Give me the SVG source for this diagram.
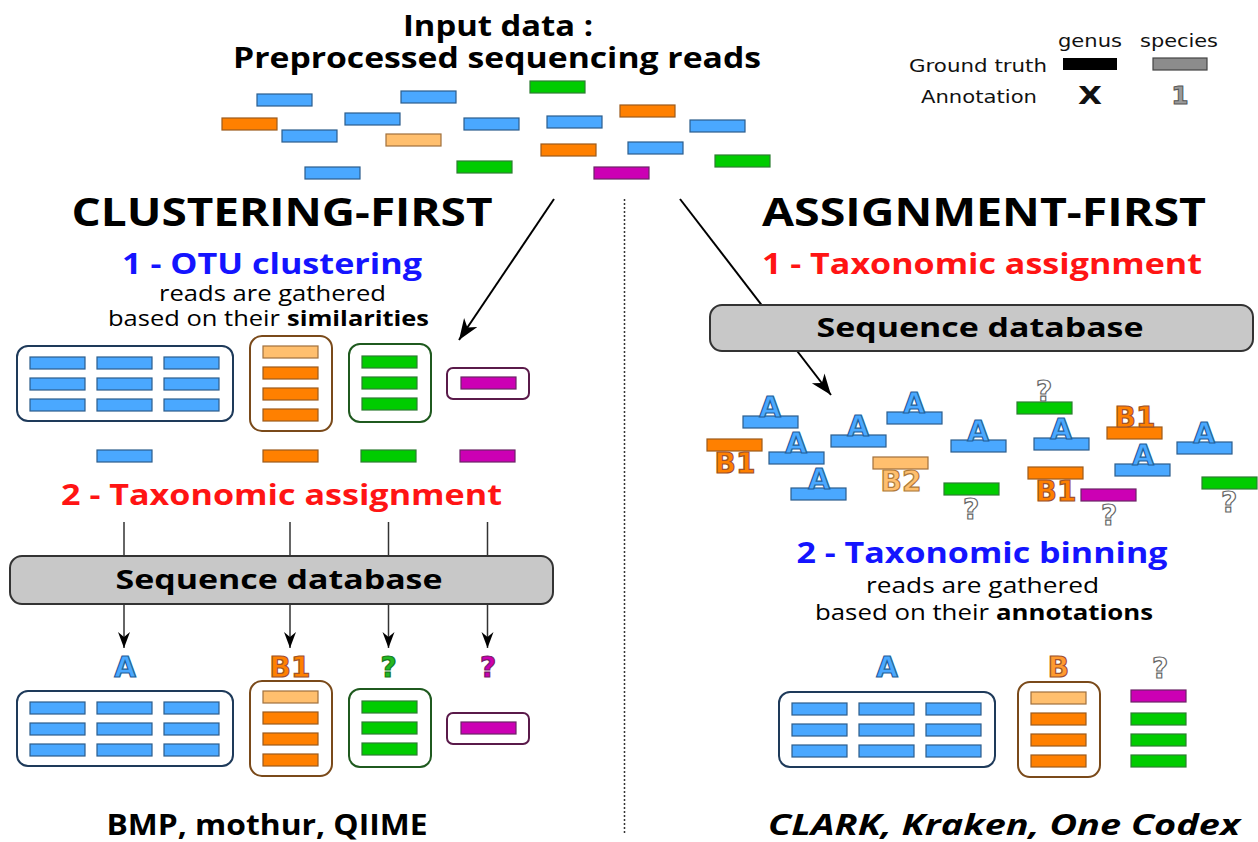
<svg xmlns="http://www.w3.org/2000/svg" xmlns:xlink="http://www.w3.org/1999/xlink" width="1258" height="842" viewBox="0 0 1258 842">
<defs>
<style>
.t{font-family:'Open Sans','Liberation Sans',sans-serif;fill:#000}
.b{font-weight:700}
.lg{font-family:'DejaVu Sans','Liberation Sans',sans-serif;fill:#111}
.lb{font-family:'DejaVu Sans','Liberation Sans',sans-serif;font-weight:700;font-size:28px;text-anchor:middle;stroke-width:1.2}
.la{fill:#4aa8ff;stroke:#1f5f99}
.lo{fill:#ff8000;stroke:#a0522d}
.ll{fill:#ffbf6e;stroke:#b07a3a}
.lq{fill:#fff;stroke:#666}
.lgq{fill:#22b822;stroke:#1a7a1a}
.lmq{fill:#cc00b0;stroke:#7a1a6a}
.r{stroke-width:1.2}
.rb{fill:#4aa8ff;stroke:#2c5d8c}
.ro{fill:#ff8000;stroke:#9c5a1c}
.rl{fill:#ffbf6e;stroke:#a0703c}
.rg{fill:#00cc00;stroke:#2e7d32}
.rm{fill:#cc00b4;stroke:#6b2466}
.box{fill:#fff;stroke-width:2}
.db{fill:#c8c8c8;stroke:#333;stroke-width:2}
.ln{stroke:#333;stroke-width:1.5;fill:none}
</style>
<marker id="ah" markerUnits="userSpaceOnUse" markerWidth="18" markerHeight="14" refX="16" refY="6" orient="auto">
<path d="M0,0 L16,6 L0,12 L5,6 z" fill="#000"/>
</marker>
<marker id="ahL" markerUnits="userSpaceOnUse" markerWidth="24" markerHeight="18" refX="21" refY="8" orient="auto">
<path d="M0,0 L21,8 L0,16 L6,8 z" fill="#000"/>
</marker>
<g id="clusterL">
<rect class="box" x="17" y="346" width="216" height="75" rx="11" stroke="#1e3a5a"/>
<rect class="r rb" x="30" y="357" width="55" height="12"/><rect class="r rb" x="97" y="357" width="55" height="12"/><rect class="r rb" x="164" y="357" width="55" height="12"/>
<rect class="r rb" x="30" y="378" width="55" height="12"/><rect class="r rb" x="97" y="378" width="55" height="12"/><rect class="r rb" x="164" y="378" width="55" height="12"/>
<rect class="r rb" x="30" y="399" width="55" height="12"/><rect class="r rb" x="97" y="399" width="55" height="12"/><rect class="r rb" x="164" y="399" width="55" height="12"/>
<rect class="box" x="250" y="336" width="82" height="95" rx="12" stroke="#7a4a1a"/>
<rect class="r rl" x="263" y="346" width="55" height="12"/><rect class="r ro" x="263" y="367" width="55" height="12"/><rect class="r ro" x="263" y="388" width="55" height="12"/><rect class="r ro" x="263" y="409" width="55" height="12"/>
<rect class="box" x="349" y="344" width="82" height="78" rx="11" stroke="#1f5a1f"/>
<rect class="r rg" x="362" y="356" width="55" height="12"/><rect class="r rg" x="362" y="377" width="55" height="12"/><rect class="r rg" x="362" y="398" width="55" height="12"/>
<rect class="box" x="447" y="368" width="82" height="31" rx="6" stroke="#5a1a4a"/>
<rect class="r rm" x="461" y="377" width="55" height="12"/>
</g>
</defs>

<g id="connectors">
<line class="ln" x1="624.5" y1="199" x2="624.5" y2="835" stroke-dasharray="2,2"/>
<line x1="554" y1="199" x2="459" y2="340" stroke="#000" stroke-width="2" marker-end="url(#ahL)"/>
<line x1="680" y1="199" x2="831" y2="395" stroke="#000" stroke-width="2" marker-end="url(#ahL)"/>
<line class="ln" x1="124" y1="522" x2="124" y2="556"/>
<line class="ln" x1="290" y1="522" x2="290" y2="556"/>
<line class="ln" x1="388.5" y1="522" x2="388.5" y2="556"/>
<line class="ln" x1="487.5" y1="522" x2="487.5" y2="556"/>
<line class="ln" x1="124" y1="604" x2="124" y2="648" marker-end="url(#ah)"/>
<line class="ln" x1="290" y1="604" x2="290" y2="648" marker-end="url(#ah)"/>
<line class="ln" x1="388.5" y1="604" x2="388.5" y2="648" marker-end="url(#ah)"/>
<line class="ln" x1="487.5" y1="604" x2="487.5" y2="648" marker-end="url(#ah)"/>
</g>

<g id="title">
<text class="t b" x="498" y="36" font-size="29" text-anchor="middle" textLength="190" lengthAdjust="spacingAndGlyphs">Input data :</text>
<text class="t b" x="497" y="68" font-size="29" text-anchor="middle" textLength="528" lengthAdjust="spacingAndGlyphs">Preprocessed sequencing reads</text>
</g>

<g id="legend">
<text class="lg" x="1090" y="47" font-size="18" text-anchor="middle" textLength="64" lengthAdjust="spacingAndGlyphs">genus</text>
<text class="lg" x="1179" y="47" font-size="18" text-anchor="middle" textLength="78" lengthAdjust="spacingAndGlyphs">species</text>
<text class="lg" x="1047" y="72" font-size="18" text-anchor="end" textLength="138" lengthAdjust="spacingAndGlyphs">Ground truth</text>
<text class="lg" x="1037" y="103" font-size="18" text-anchor="end" textLength="116" lengthAdjust="spacingAndGlyphs">Annotation</text>
<rect x="1063" y="58" width="54" height="12" fill="#000"/>
<rect x="1153" y="58" width="54" height="12" fill="#8c8c8c" stroke="#444" stroke-width="1.2"/>
<text class="lg" x="1090" y="104" font-size="25" font-weight="700" text-anchor="middle" fill="#000" textLength="24" lengthAdjust="spacingAndGlyphs">X</text>
<text class="lg" x="1180" y="104" font-size="25" font-weight="700" text-anchor="middle" style="fill:#9a9a9a;stroke:#555;stroke-width:1">1</text>
</g>

<g id="input-reads">
<rect class="r rb" x="257" y="94" width="55" height="12"/>
<rect class="r rb" x="401" y="91" width="55" height="12"/>
<rect class="r rg" x="530" y="81" width="55" height="12"/>
<rect class="r ro" x="222" y="118" width="55" height="12"/>
<rect class="r rb" x="345" y="113" width="55" height="12"/>
<rect class="r rb" x="282" y="130" width="55" height="12"/>
<rect class="r rl" x="386" y="134" width="55" height="12"/>
<rect class="r rb" x="464" y="118" width="55" height="12"/>
<rect class="r rb" x="547" y="116" width="55" height="12"/>
<rect class="r ro" x="620" y="105" width="55" height="12"/>
<rect class="r rb" x="690" y="120" width="55" height="12"/>
<rect class="r ro" x="541" y="144" width="55" height="12"/>
<rect class="r rb" x="628" y="142" width="55" height="12"/>
<rect class="r rg" x="715" y="155" width="55" height="12"/>
<rect class="r rb" x="305" y="167" width="55" height="12"/>
<rect class="r rg" x="457" y="161" width="55" height="12"/>
<rect class="r rm" x="594" y="167" width="55" height="12"/>
</g>

<g id="clustering-first">
<text class="t b" x="282" y="226" font-size="40" text-anchor="middle" textLength="421" lengthAdjust="spacingAndGlyphs">CLUSTERING-FIRST</text>
<text class="t b" x="272" y="274" font-size="28" text-anchor="middle" textLength="300" lengthAdjust="spacingAndGlyphs" style="fill:#1414ff">1 - OTU clustering</text>
<text class="t" x="272.5" y="301" font-size="21" text-anchor="middle" textLength="227" lengthAdjust="spacingAndGlyphs">reads are gathered</text>
<text class="t" x="108" y="326" font-size="21" textLength="172" lengthAdjust="spacingAndGlyphs">based on their</text>
<text class="t b" x="287" y="326" font-size="21" textLength="142" lengthAdjust="spacingAndGlyphs">similarities</text>
</g>

<g id="otu-clusters"><use xlink:href="#clusterL"/></g>

<g id="representatives">
<rect class="r rb" x="97" y="450" width="55" height="12"/>
<rect class="r ro" x="263" y="450" width="55" height="12"/>
<rect class="r rg" x="361" y="450" width="55" height="12"/>
<rect class="r rm" x="460" y="450" width="55" height="12"/>
</g>

<g id="step2-left">
<text class="t b" x="281.5" y="505" font-size="29" text-anchor="middle" textLength="441" lengthAdjust="spacingAndGlyphs" style="fill:#ff1414">2 - Taxonomic assignment</text>
</g>

<g id="db-left">
<rect class="db" x="10" y="556" width="543" height="48" rx="12"/>
<text class="t b" x="279" y="589" font-size="27" text-anchor="middle" textLength="327" lengthAdjust="spacingAndGlyphs">Sequence database</text>
</g>

<g id="labels-left">
<text class="lb la" x="125" y="677">A</text>
<text class="lb lo" x="290" y="677">B1</text>
<text class="lb lgq" x="388.5" y="677">?</text>
<text class="lb lmq" x="488" y="677">?</text>
</g>

<g id="annotated-clusters"><use xlink:href="#clusterL" transform="translate(0,345)"/></g>

<g id="tools-left">
<text class="t b" x="267" y="835" font-size="29" text-anchor="middle" textLength="321" lengthAdjust="spacingAndGlyphs">BMP, mothur, QIIME</text>
</g>

<g id="assignment-first">
<text class="t b" x="984" y="226" font-size="40" text-anchor="middle" textLength="444" lengthAdjust="spacingAndGlyphs">ASSIGNMENT-FIRST</text>
<text class="t b" x="982" y="274" font-size="29" text-anchor="middle" textLength="440" lengthAdjust="spacingAndGlyphs" style="fill:#ff1414">1 - Taxonomic assignment</text>
</g>

<g id="db-right">
<rect class="db" x="710" y="305" width="543" height="46" rx="12"/>
<text class="t b" x="980" y="337" font-size="27" text-anchor="middle" textLength="327" lengthAdjust="spacingAndGlyphs">Sequence database</text>
</g>

<g id="annotated-reads">
<rect class="r rb" x="743" y="416" width="55" height="12"/><text class="lb la" x="770" y="417">A</text>
<rect class="r ro" x="707" y="439" width="55" height="12"/><text class="lb lo" x="735" y="473">B1</text>
<rect class="r rb" x="769" y="452" width="55" height="12"/><text class="lb la" x="796" y="453">A</text>
<rect class="r rb" x="791" y="488" width="55" height="12"/><text class="lb la" x="819" y="489">A</text>
<rect class="r rb" x="831" y="435" width="55" height="12"/><text class="lb la" x="858" y="436">A</text>
<rect class="r rb" x="887" y="412" width="55" height="12"/><text class="lb la" x="914" y="413">A</text>
<rect class="r rl" x="873" y="457" width="55" height="12"/><text class="lb ll" x="901" y="491">B2</text>
<rect class="r rb" x="951" y="440" width="55" height="12"/><text class="lb la" x="978" y="441">A</text>
<rect class="r rg" x="944" y="483" width="55" height="12"/><text class="lb lq" x="971" y="519">?</text>
<rect class="r rg" x="1017" y="402" width="55" height="12"/><text class="lb lq" x="1044" y="401">?</text>
<rect class="r rb" x="1034" y="438" width="55" height="12"/><text class="lb la" x="1061" y="439">A</text>
<rect class="r ro" x="1028" y="467" width="55" height="12"/><text class="lb lo" x="1056" y="501">B1</text>
<rect class="r rm" x="1081" y="489" width="55" height="12"/><text class="lb lq" x="1109" y="525">?</text>
<rect class="r ro" x="1107" y="427" width="55" height="12"/><text class="lb lo" x="1135" y="427">B1</text>
<rect class="r rb" x="1115" y="464" width="55" height="12"/><text class="lb la" x="1143" y="465">A</text>
<rect class="r rb" x="1177" y="442" width="55" height="12"/><text class="lb la" x="1204" y="443">A</text>
<rect class="r rg" x="1202" y="477" width="55" height="12"/><text class="lb lq" x="1229" y="512">?</text>
</g>

<g id="binning-text">
<text class="t b" x="982" y="563" font-size="29" text-anchor="middle" textLength="371" lengthAdjust="spacingAndGlyphs" style="fill:#1414ff">2 - Taxonomic binning</text>
<text class="t" x="982.5" y="593" font-size="21" text-anchor="middle" textLength="233" lengthAdjust="spacingAndGlyphs">reads are gathered</text>
<text class="t" x="815" y="620" font-size="21" textLength="174" lengthAdjust="spacingAndGlyphs">based on their</text>
<text class="t b" x="996" y="620" font-size="21" textLength="157" lengthAdjust="spacingAndGlyphs">annotations</text>
</g>

<g id="bins">
<text class="lb la" x="887" y="677">A</text>
<text class="lb" x="1058.5" y="677" style="fill:#ff9a30;stroke:#a0522d">B</text>
<text class="lb lq" x="1160" y="678">?</text>
<rect class="box" x="779" y="692" width="216" height="75" rx="11" stroke="#1e3a5a"/>
<rect class="r rb" x="792" y="703" width="55" height="12"/><rect class="r rb" x="859" y="703" width="55" height="12"/><rect class="r rb" x="926" y="703" width="55" height="12"/>
<rect class="r rb" x="792" y="724" width="55" height="12"/><rect class="r rb" x="859" y="724" width="55" height="12"/><rect class="r rb" x="926" y="724" width="55" height="12"/>
<rect class="r rb" x="792" y="745" width="55" height="12"/><rect class="r rb" x="859" y="745" width="55" height="12"/><rect class="r rb" x="926" y="745" width="55" height="12"/>
<rect class="box" x="1018" y="682" width="82" height="95" rx="12" stroke="#7a4a1a"/>
<rect class="r rl" x="1031" y="692" width="55" height="12"/><rect class="r ro" x="1031" y="713" width="55" height="12"/><rect class="r ro" x="1031" y="734" width="55" height="12"/><rect class="r ro" x="1031" y="755" width="55" height="12"/>
<rect class="r rm" x="1131" y="690" width="55" height="12"/>
<rect class="r rg" x="1131" y="713" width="55" height="12"/>
<rect class="r rg" x="1131" y="734" width="55" height="12"/>
<rect class="r rg" x="1131" y="755" width="55" height="12"/>
</g>

<g id="tools-right">
<text class="t b" x="1004" y="835" font-size="29" font-style="italic" text-anchor="middle" textLength="472" lengthAdjust="spacingAndGlyphs">CLARK, Kraken, One Codex</text>
</g>
</svg>
